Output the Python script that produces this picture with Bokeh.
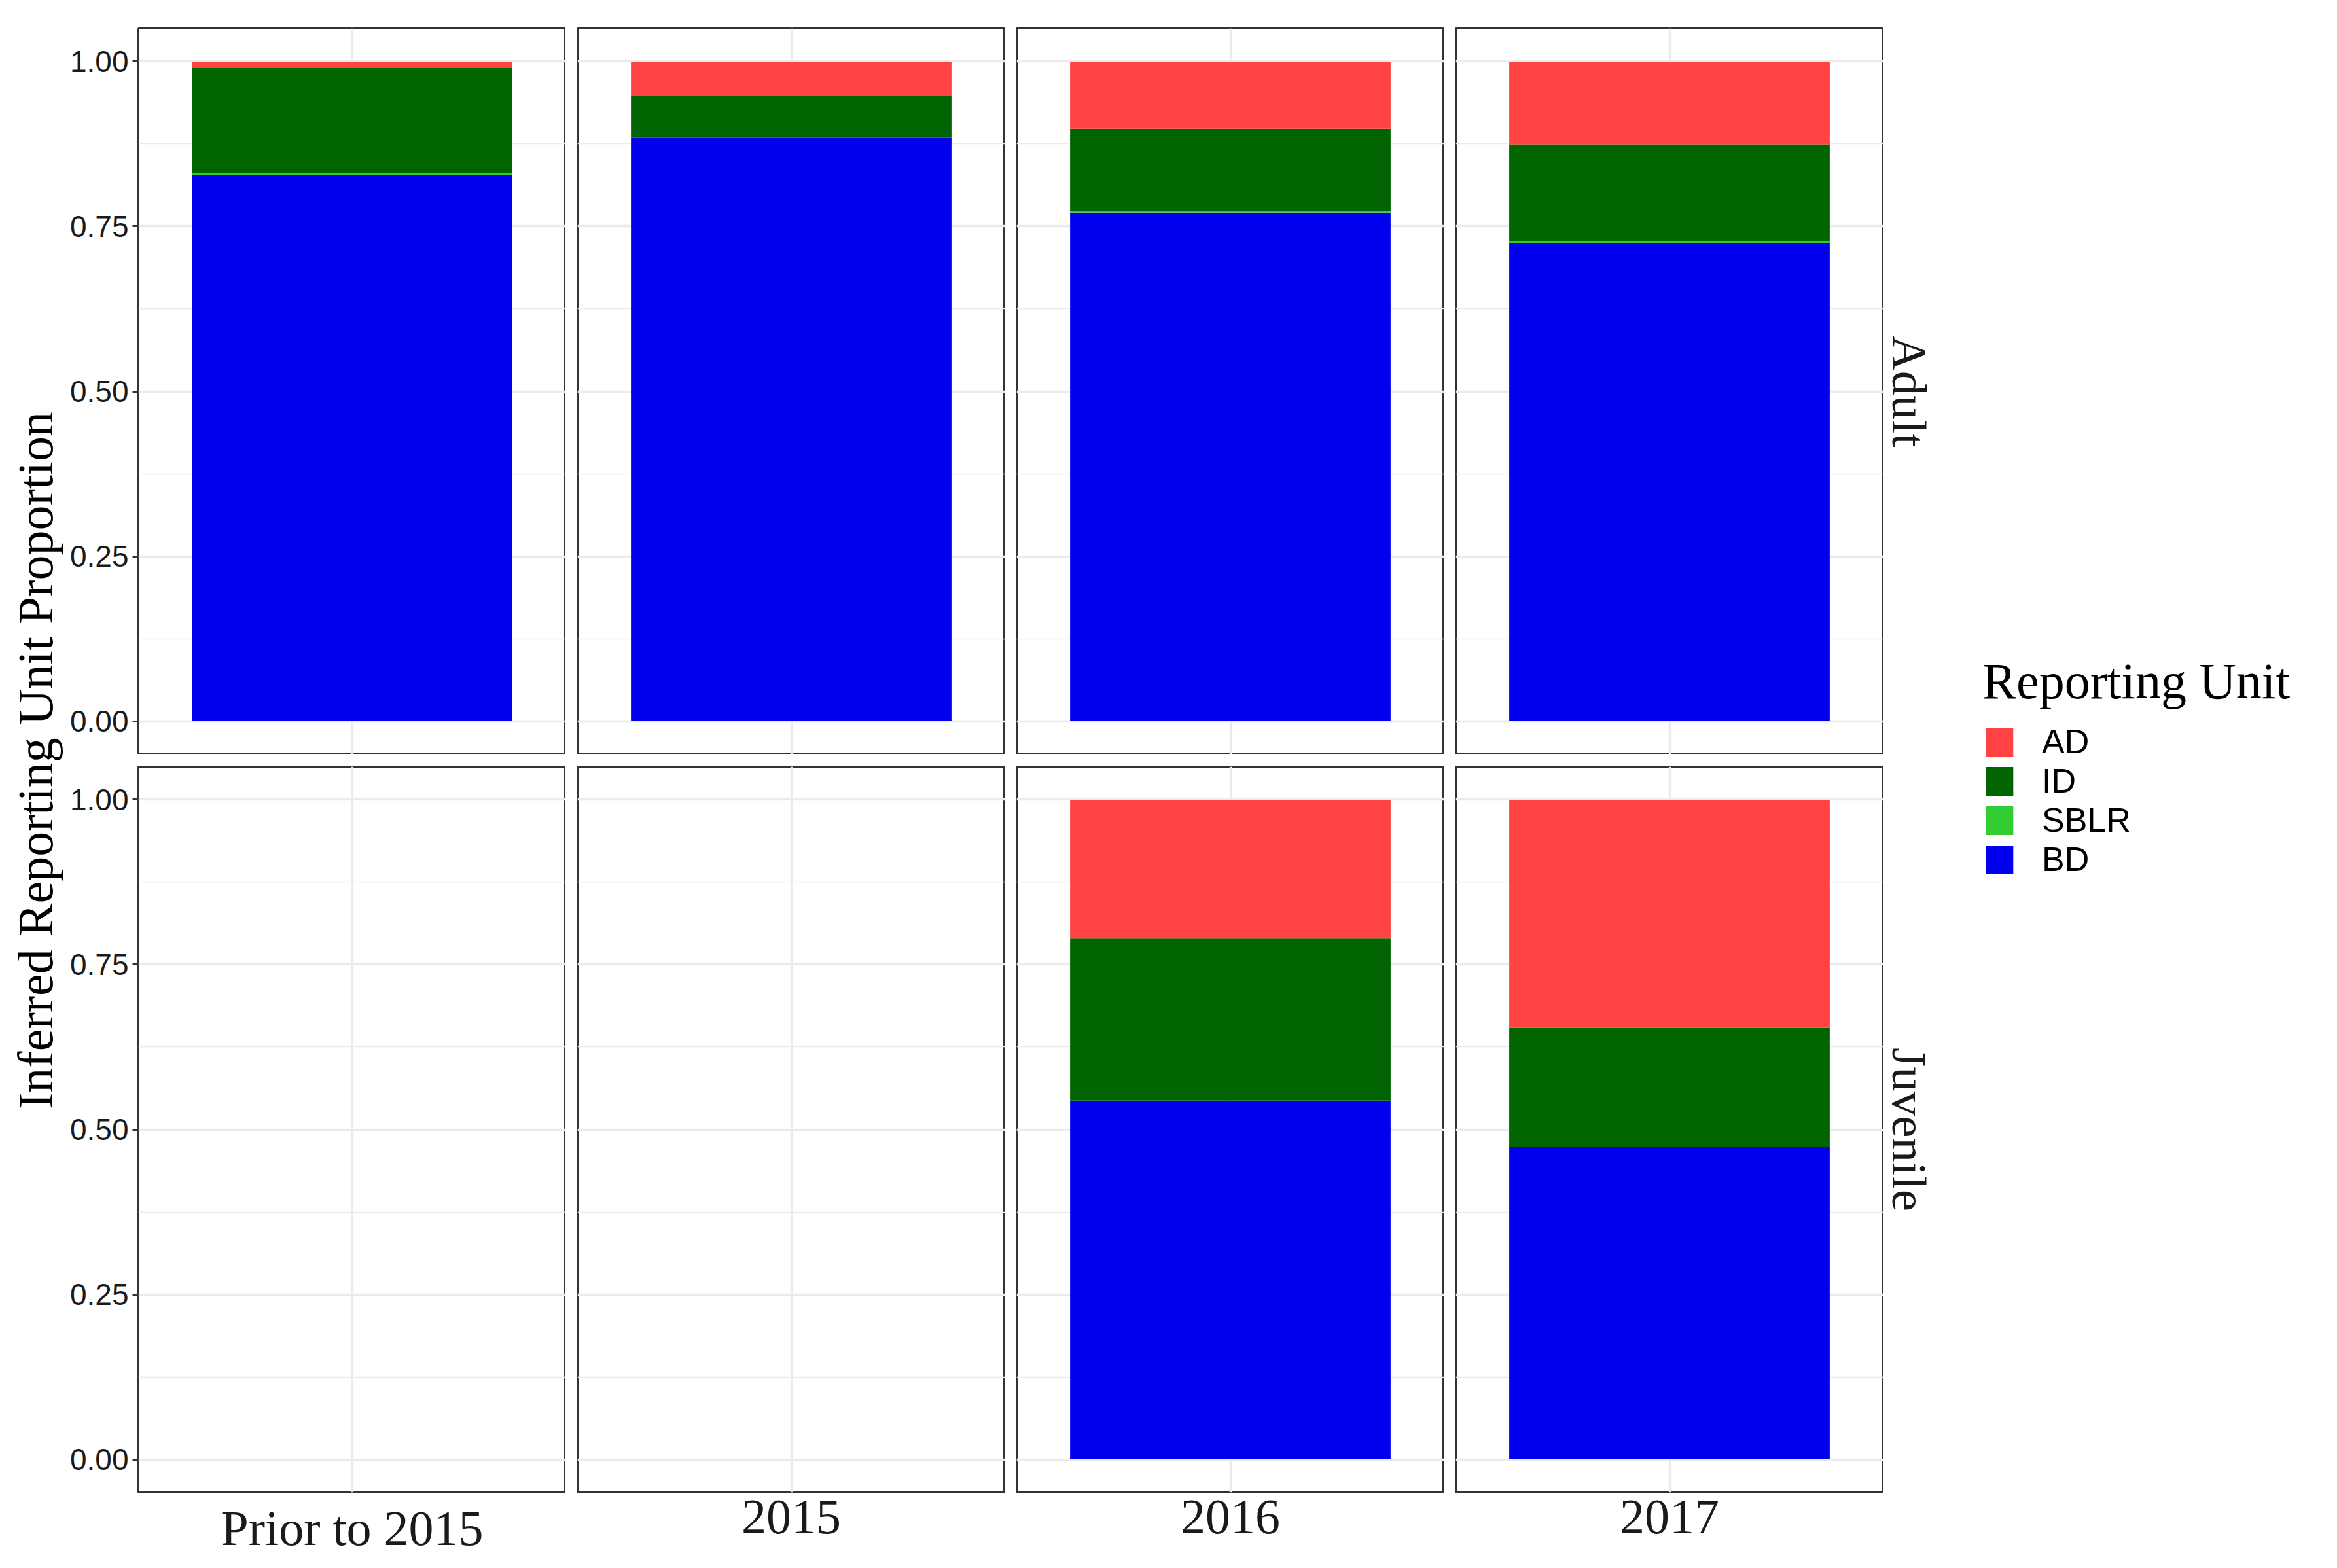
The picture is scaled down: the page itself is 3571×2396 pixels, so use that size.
import numpy as np
from bokeh.plotting import figure
from bokeh.models import (Range1d, FixedTicker, ColumnDataSource, Legend, LegendItem,
                          NumeralTickFormatter, Grid)
from bokeh.layouts import row, column
from bokeh.core.properties import value
from bokeh.embed import file_html
from bokeh.resources import INLINE

# ---------------- data ----------------
periods = ["Prior to 2015", "2015", "2016", "2017"]
life_stages = ["Adult", "Juvenile"]
stack_order = ["BD", "SBLR", "ID", "AD"]      # bottom -> top
legend_order = ["AD", "ID", "SBLR", "BD"]
unit_colors = {"AD": "#FF4242", "ID": "#006400", "SBLR": "#32CD32", "BD": "#0000EE"}

adult_BD = [0.828, 0.884, 0.771, 0.7245]
adult_SBLR = [0.002, 0.0, 0.002, 0.0035]
adult_ID = [0.160, 0.064, 0.125, 0.1465]
adult_AD = [0.010, 0.052, 0.102, 0.1255]

juv_BD = [None, None, 0.544, 0.474]
juv_SBLR = [None, None, 0.0, 0.0]
juv_ID = [None, None, 0.2455, 0.180]
juv_AD = [None, None, 0.2105, 0.346]

y_ticks = [0.0, 0.25, 0.5, 0.75, 1.0]
y_minor = [0.125, 0.375, 0.625, 0.875]

y_title = "Inferred Reporting Unit Proportion"
legend_title = "Reporting Unit"

data = {
    "Adult": {"BD": adult_BD, "SBLR": adult_SBLR, "ID": adult_ID, "AD": adult_AD},
    "Juvenile": {"BD": juv_BD, "SBLR": juv_SBLR, "ID": juv_ID, "AD": juv_AD},
}

# ---------------- layout constants ----------------
FW, FH = 653, 1109
YT_W = 97
LEFT, GAP = 114, 18
TOP, VGAP, BOTTOM = 43, 19, 100
STRIP_W = 90
LEG_W = 578
SERIF = "Liberation Serif"
SANS = "Liberation Sans"
TOTAL_H = TOP + FH + VGAP + FH + BOTTOM


def drop_grids(f):
    f.center = [c for c in f.center if not isinstance(c, Grid)]


def make_panel(si, ci):
    stage = life_stages[si]
    first_col = ci == 0
    bottom = si == 1
    p = figure(frame_width=FW, frame_height=FH,
               x_range=Range1d(0.4, 1.6), y_range=Range1d(-0.05, 1.05),
               output_backend="svg", toolbar_location=None,
               x_axis_location="below" if bottom else None,
               y_axis_location="left" if first_col else None,
               min_border_left=LEFT if first_col else GAP, min_border_right=0,
               min_border_top=VGAP if bottom else TOP,
               min_border_bottom=BOTTOM if bottom else 0)
    p.background_fill_color = "white"
    p.border_fill_color = "white"
    p.outline_line_color = "#333333"
    p.outline_line_width = 3

    p.xgrid.ticker = FixedTicker(ticks=[1])
    p.ygrid.ticker = FixedTicker(ticks=y_ticks, minor_ticks=y_minor)
    p.xgrid.grid_line_color = "#EBEBEB"
    p.xgrid.grid_line_width = 3.3
    p.ygrid.grid_line_color = "#EBEBEB"
    p.ygrid.grid_line_width = 3.3
    p.ygrid.minor_grid_line_color = "#EBEBEB"
    p.ygrid.minor_grid_line_width = 1.7

    vals = data[stage]
    if vals["BD"][ci] is not None:
        src = ColumnDataSource(dict(x=[1], **{u: [vals[u][ci]] for u in stack_order}))
        p.vbar_stack(stack_order, x="x", width=0.9, source=src,
                     fill_color=[unit_colors[u] for u in stack_order], line_color=None)

    if first_col:
        ax = p.yaxis[0]
        ax.ticker = FixedTicker(ticks=y_ticks, minor_ticks=y_minor)
        ax.formatter = NumeralTickFormatter(format="0.00")
        ax.axis_line_color = None
        ax.major_tick_out = 9
        ax.major_tick_in = 0
        ax.major_tick_line_width = 3
        ax.major_tick_line_color = "#333333"
        ax.minor_tick_line_color = None
        ax.major_label_text_font = SANS
        ax.major_label_text_font_size = "46px"
        ax.major_label_text_color = "#1A1A1A"
        ax.major_label_standoff = 6
    if bottom:
        ax = p.xaxis[0]
        ax.ticker = FixedTicker(ticks=[1])
        ax.major_label_overrides = {1: periods[ci]}
        ax.axis_line_color = None
        ax.major_tick_line_color = None
        ax.minor_tick_line_color = None
        ax.major_label_text_font = SERIF
        ax.major_label_text_font_size = "76px"
        ax.major_label_text_color = "#1A1A1A"
        ax.major_label_standoff = 6
    return p


def make_strip(si):
    bottom = si == 1
    s = figure(frame_width=STRIP_W, frame_height=FH,
               x_range=Range1d(0, 1), y_range=Range1d(-0.05, 1.05),
               output_backend="svg", toolbar_location=None,
               x_axis_location=None, y_axis_location=None,
               min_border_left=0, min_border_right=0,
               min_border_top=VGAP if bottom else TOP,
               min_border_bottom=BOTTOM if bottom else 0)
    s.outline_line_color = None
    drop_grids(s)
    s.text(x=[0.44], y=[0.5], text=[life_stages[si]], angle=-np.pi / 2,
           text_font=value(SERIF), text_font_size="75px", text_color="#1A1A1A",
           text_align="center", text_baseline="middle")
    return s


rows = []
for si in range(2):
    panels = [make_panel(si, ci) for ci in range(len(periods))]
    rows.append(row(*panels, make_strip(si)))
grid = column(*rows)

# y-axis title
yt = figure(width=YT_W, height=TOTAL_H, x_range=Range1d(0, 1), y_range=Range1d(0, 1),
            output_backend="svg", toolbar_location=None,
            x_axis_location=None, y_axis_location=None,
            min_border_left=0, min_border_right=0,
            min_border_top=TOP, min_border_bottom=BOTTOM)
yt.outline_line_color = None
drop_grids(yt)
yt.text(x=[0.55], y=[0.5], text=[y_title], angle=np.pi / 2,
        text_font=value(SERIF), text_font_size="76px", text_color="black",
        text_align="center", text_baseline="middle")

# legend
lg = figure(width=LEG_W, height=TOTAL_H, x_range=Range1d(0, 1), y_range=Range1d(0, 1),
            output_backend="svg", toolbar_location=None,
            x_axis_location=None, y_axis_location=None, min_border=0)
lg.outline_line_color = None
drop_grids(lg)
items = []
for u in legend_order:
    # zero-size placeholder renderer, only used for the legend swatch
    r = lg.vbar(x=[0.5], top=[0], bottom=[0], width=0, fill_color=unit_colors[u], line_color=None)
    items.append(LegendItem(label=u, renderers=[r]))
leg = Legend(items=items, location=(62, 937), title=legend_title,
             title_text_font=SERIF, title_text_font_size="78px", title_text_font_style="normal",
             title_text_color="black", title_standoff=17,
             label_text_font=SANS, label_text_font_size="52px", label_text_color="black",
             label_standoff=39, glyph_width=52, glyph_height=55, spacing=0,
             padding=0, margin=0, border_line_color=None, background_fill_alpha=0)
lg.add_layout(leg)

layout = row(yt, grid, lg)

open("out.html", "w").write(file_html(layout, INLINE))
